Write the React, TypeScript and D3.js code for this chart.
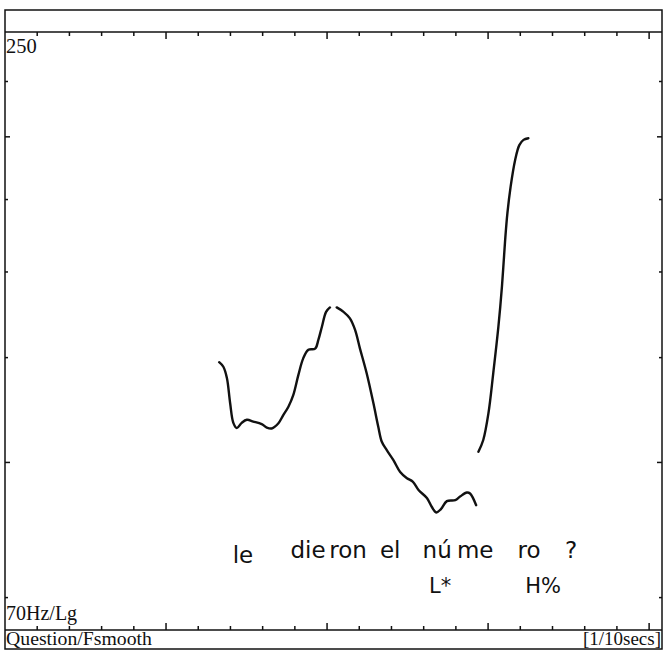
import React from "react";
import * as d3 from "d3";

// Pitch track (F0, Hz) against time (s)
const seg1Time = [0.665, 0.678, 0.689, 0.699, 0.709, 0.72, 0.735, 0.751, 0.771, 0.797, 0.813, 0.828, 0.849, 0.864, 0.88, 0.895, 0.911, 0.926, 0.942, 0.963, 0.973, 0.984, 0.997, 1.009];
const seg1Hz = [123.8, 122.6, 119.7, 113.5, 108.8, 107.6, 108.8, 109.5, 109.1, 108.5, 107.7, 107.5, 108.7, 110.6, 112.6, 115.4, 120.5, 124.8, 127.1, 127.4, 129.8, 133.5, 137.8, 139.1];
const seg2Time = [1.03, 1.051, 1.071, 1.087, 1.102, 1.123, 1.144, 1.159, 1.17, 1.185, 1.206, 1.227, 1.248, 1.266, 1.284, 1.31, 1.325, 1.339, 1.353, 1.372, 1.398, 1.413, 1.434, 1.444, 1.463];
const seg2Hz = [139.1, 137.8, 135.9, 132.6, 127.5, 120.9, 113.4, 107.9, 104.5, 102.7, 100.5, 98.0, 96.7, 96.0, 94.3, 92.7, 91.0, 89.9, 90.5, 92.1, 92.3, 93.0, 93.8, 93.6, 91.3];
const seg3Time = [1.47, 1.485, 1.501, 1.516, 1.532, 1.543, 1.553, 1.56, 1.57, 1.584, 1.597, 1.61, 1.625];
const seg3Hz = [102.3, 104.9, 111.0, 120.9, 133.5, 145.4, 160.6, 170.0, 179.9, 190.4, 196.5, 198.7, 199.4];

const timeDomain = [0, 2.04];
const hzDomain = [70, 250];
const timeTicks = d3.range(1, 21).map((i) => i / 10);
const hzTicks = [75, 100, 125, 150, 175, 200, 225];

const words = ["le", "die", "ron", "el", "nú", "me", "ro", "?"];
const wordTimes = [0.739, 0.941, 1.065, 1.196, 1.342, 1.46, 1.627, 1.758];
const tones = ["L*", "H%"];
const toneTimes = [1.351, 1.671];

const topLabel = "250";
const bottomLabel = "70Hz/Lg";
const fileLabel = "Question/Fsmooth";
const unitLabel = "[1/10secs]";

export default function App() {
  const W = 663;
  const H = 651;
  const left = 5;
  const right = 662;
  const frameTop = 10;
  const plotTop = 32;
  const plotBottom = 630;
  const frameBottom = 649;

  const x = d3.scaleLinear().domain(timeDomain).range([left, right]);
  const y = d3.scaleLog().domain(hzDomain).range([plotBottom, plotTop]);

  const line = d3
    .line<[number, number]>()
    .x((d) => x(d[0]))
    .y((d) => y(d[1]))
    .curve(d3.curveCatmullRom.alpha(0.5));

  const segs = [
    seg1Time.map((t, i) => [t, seg1Hz[i]] as [number, number]),
    seg2Time.map((t, i) => [t, seg2Hz[i]] as [number, number]),
    seg3Time.map((t, i) => [t, seg3Hz[i]] as [number, number]),
  ];

  const serif = "'Liberation Serif', 'Times New Roman', serif";
  const hand = "'DejaVu Sans', 'Noto Sans', sans-serif";

  return (
    <svg
      width={W}
      height={H}
      style={{ position: "absolute", left: 0, top: 0, background: "#fff" }}
    >
      <rect x={0} y={0} width={W} height={H} fill="#fff" />
      {/* frame */}
      <rect
        x={left}
        y={frameTop}
        width={right - left}
        height={frameBottom - frameTop}
        fill="none"
        stroke="#111"
        strokeWidth={1.5}
      />
      <line x1={left} x2={right} y1={plotTop} y2={plotTop} stroke="#111" strokeWidth={1.5} />
      <line x1={left} x2={right} y1={plotBottom} y2={plotBottom} stroke="#111" strokeWidth={1.5} />

      {/* time ticks */}
      {timeTicks.map((t, i) => {
        const major = Math.abs((t * 10) % 5) < 1e-6;
        const len = major ? 7 : 4;
        return (
          <g key={"tt" + i}>
            <line x1={x(t)} x2={x(t)} y1={plotTop} y2={plotTop + len} stroke="#111" strokeWidth={1.5} />
            <line x1={x(t)} x2={x(t)} y1={plotBottom} y2={plotBottom - len} stroke="#111" strokeWidth={1.5} />
          </g>
        );
      })}
      {/* Hz ticks */}
      {hzTicks.map((f, i) => {
        const major = f === 100 || f === 200;
        const len = major ? 5 : 3;
        return (
          <g key={"ht" + i}>
            <line x1={left} x2={left + len} y1={y(f)} y2={y(f)} stroke="#111" strokeWidth={1.5} />
            <line x1={right} x2={right - len} y1={y(f)} y2={y(f)} stroke="#111" strokeWidth={1.5} />
          </g>
        );
      })}

      {/* pitch track */}
      {segs.map((s, i) => (
        <path
          key={"s" + i}
          d={line(s) || ""}
          fill="none"
          stroke="#111"
          strokeWidth={2.4}
          strokeLinecap="round"
          strokeLinejoin="round"
        />
      ))}

      {/* labels */}
      <text x={6} y={53} fontFamily={serif} fontSize={20.5} fill="#111">
        {topLabel}
      </text>
      <text x={6} y={620} fontFamily={serif} fontSize={20} fill="#111">
        {bottomLabel}
      </text>
      <text x={6} y={645} fontFamily={serif} fontSize={19.5} fill="#111" textLength={146} lengthAdjust="spacingAndGlyphs">
        {fileLabel}
      </text>
      <text x={661} y={645} fontFamily={serif} fontSize={19} fill="#111" textAnchor="end">
        {unitLabel}
      </text>

      {/* handwritten annotation */}
      {words.map((w, i) => (
        <text
          key={"w" + i}
          x={x(wordTimes[i])}
          y={i === 0 ? 563 : 558}
          textAnchor="middle"
          fontFamily={hand}
          fontSize={23}
          fill="#111"
        >
          {w}
        </text>
      ))}
      {tones.map((w, i) => (
        <text
          key={"t" + i}
          x={x(toneTimes[i])}
          y={593}
          textAnchor="middle"
          fontFamily={hand}
          fontSize={21}
          fill="#111"
        >
          {w}
        </text>
      ))}
    </svg>
  );
}
